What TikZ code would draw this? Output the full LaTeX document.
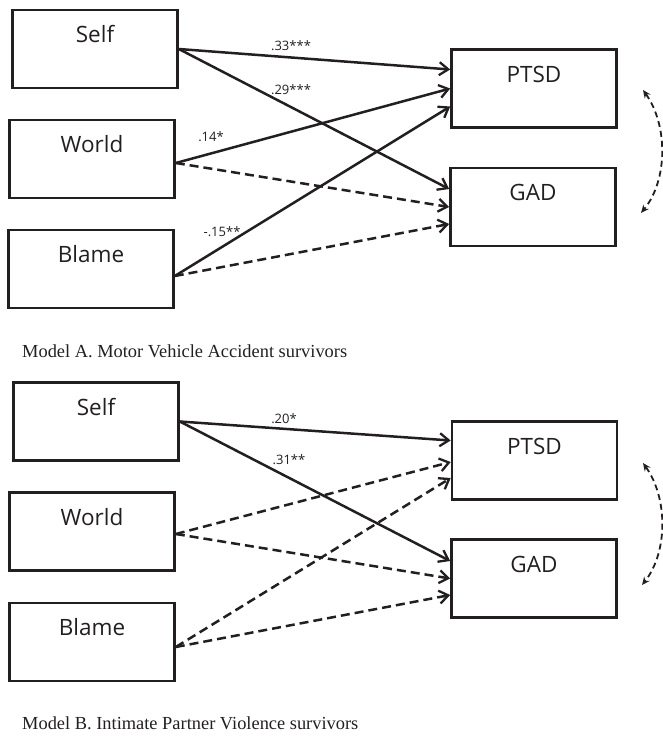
\documentclass[tikz,border=0pt]{standalone}
\usepackage{fontspec}
\setmainfont{Liberation Serif}
\newfontfamily\boxfont{Open Sans}
\usetikzlibrary{arrows.meta,calc}
\definecolor{ink}{HTML}{231F20}
\begin{document}
\begin{tikzpicture}[x=1pt,y=-1pt,
  box/.style={draw=ink, line width=2.6pt, inner sep=0pt, minimum width=165pt,
    text height=32.5pt, text depth=45.5pt, font=\boxfont\fontsize{22.5}{26}\selectfont, text=ink},
  coef/.style={font=\boxfont\fontsize{13}{15}\selectfont, text=ink, inner sep=0pt},
  captext/.style={font=\fontsize{18.4}{22}\selectfont, text=ink, anchor=west, inner sep=0pt},
  sigpath/.style={draw=ink, line width=2.5pt, -{Straight Barb[length=9pt,width=13pt,line width=2.3pt]}},
  nspath/.style={sigpath, dash pattern=on 9pt off 5pt},
  corr/.style={draw=ink, line width=1.8pt, dash pattern=on 6pt off 4pt,
    {Stealth[length=8pt,width=7pt]}-{Stealth[length=8pt,width=7pt]}}]
\useasboundingbox (0,0) rectangle (662,737);

% ---------- Model A ----------
\node[box] (selfA)  at (95,49)   {Self};
\node[box] (worldA) at (92,159)  {World};
\node[box] (blameA) at (91,269)  {Blame};
\node[box] (ptsdA)  at (534,88.5) {PTSD};
\node[box] (gadA)   at (533,207) {GAD};

\draw[sigpath] (selfA.east) -- ([yshift=19pt]ptsdA.west);
\draw[sigpath] (selfA.east) -- ([yshift=18pt]gadA.west);
\draw[sigpath] ([yshift=-4pt]worldA.east) -- (ptsdA.west);
\draw[nspath]  ([yshift=-4pt]worldA.east) -- (gadA.west);
\draw[sigpath] ([yshift=-7pt]blameA.east) -- ([yshift=-18pt]ptsdA.west);
\draw[nspath]  ([yshift=-7pt]blameA.east) -- ([yshift=-17pt]gadA.west);

\node[coef] (cA1) at (291,46)  {.33***};
\node[coef] (cA2) at (291,90)  {.29***};
\node[coef] (cA3) at (211,137) {.14*};
\node[coef] (cA4) at (222,232) {-.15**};

\coordinate (rA1) at (643,90);
\coordinate (rA2) at (641,213);
\draw[corr] (rA1) .. controls (668,125) and (668,180) .. (rA2);

\node[captext] (capA) at (22,351) {Model A. Motor Vehicle Accident survivors};

% ---------- Model B ----------
\node[box] (selfB)  at (96,421.5) {Self};
\node[box] (worldB) at (92,531.5) {World};
\node[box] (blameB) at (92,642)   {Blame};
\node[box] (ptsdB)  at (534.5,460.5) {PTSD};
\node[box] (gadB)   at (534,578.5) {GAD};

\draw[sigpath] (selfB.east) -- ([yshift=20pt]ptsdB.west);
\draw[sigpath] (selfB.east) -- ([yshift=17.5pt]gadB.west);
\draw[nspath]  ([yshift=-2.5pt]worldB.east) -- ([yshift=-1.5pt]ptsdB.west);
\draw[nspath]  ([yshift=-2.5pt]worldB.east) -- (gadB.west);
\draw[nspath]  ([yshift=-5pt]blameB.east) -- ([yshift=-17.5pt]ptsdB.west);
\draw[nspath]  ([yshift=-5pt]blameB.east) -- ([yshift=-16.5pt]gadB.west);

\node[coef] (cB1) at (284,419) {.20*};
\node[coef] (cB2) at (289,460) {.31**};

\coordinate (rB1) at (643,463);
\coordinate (rB2) at (642,585);
\draw[corr] (rB1) .. controls (668,498) and (668,552) .. (rB2);

\node[captext] (capB) at (22,723) {Model B. Intimate Partner Violence survivors};
\end{tikzpicture}
\end{document}
